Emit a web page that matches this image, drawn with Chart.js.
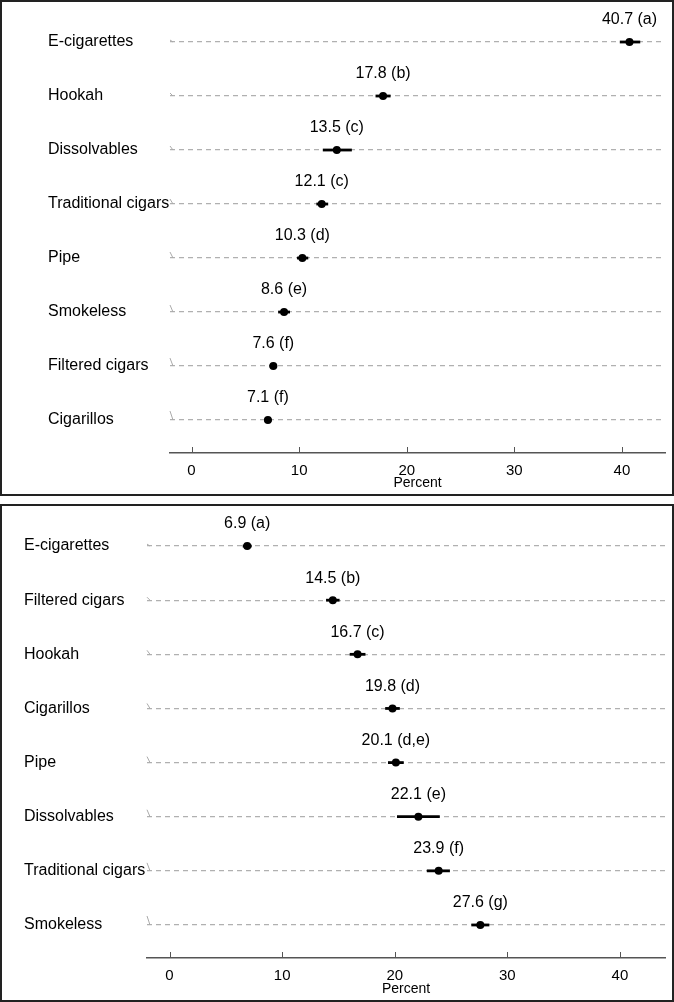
<!DOCTYPE html>
<html>
<head>
<meta charset="utf-8">
<script src="https://cdn.jsdelivr.net/npm/chart.js@4"></script>
<style>
  body { margin: 0; background: #fff; }
  .panel { position: absolute; left: 0; width: 670px; border: 2px solid #222; background: #fff; }
  #p1 { top: 0; height: 492px; }
  #p2 { top: 504px; height: 494px; }
</style>
</head>
<body>
<div class="panel" id="p1"><canvas id="top"></canvas></div>
<div class="panel" id="p2"><canvas id="bottom"></canvas></div>
<script>
const topNames = ['E-cigarettes', 'Hookah', 'Dissolvables', 'Traditional cigars', 'Pipe', 'Smokeless', 'Filtered cigars', 'Cigarillos']
const topValues = [40.7, 17.8, 13.5, 12.1, 10.3, 8.6, 7.6, 7.1]
const topLetters = ['a', 'b', 'c', 'c', 'd', 'e', 'f', 'f']
const topLow = [39.8, 17.1, 12.2, 11.6, 9.8, 8.05, 7.25, 6.75]
const topHigh = [41.7, 18.5, 14.9, 12.7, 10.85, 9.15, 7.95, 7.45]

const botNames = ['E-cigarettes', 'Filtered cigars', 'Hookah', 'Cigarillos', 'Pipe', 'Dissolvables', 'Traditional cigars', 'Smokeless']
const botValues = [6.9, 14.5, 16.7, 19.8, 20.1, 22.1, 23.9, 27.6]
const botLetters = ['a', 'b', 'c', 'd', 'd,e', 'e', 'f', 'g']
const botLow = [6.5, 13.9, 16.0, 19.15, 19.4, 20.2, 22.85, 26.8]
const botHigh = [7.3, 15.1, 17.4, 20.45, 20.8, 24.0, 24.9, 28.4]

const xTicks = [0, 10, 20, 30, 40]
const family = '"Liberation Sans", Arial, sans-serif'

// value labels, upward x ticks and the little slanted marks at the start of each row
const extras = {
  id: 'extras',
  afterDraw(chart, args, opts) {
    const { ctx, chartArea, scales: { x, y } } = chart
    ctx.save()
    ctx.strokeStyle = '#555'
    ctx.lineWidth = 1
    xTicks.forEach(v => {
      const px = Math.round(x.getPixelForValue(v)) + 0.5
      ctx.beginPath()
      ctx.moveTo(px, chartArea.bottom)
      ctx.lineTo(px, chartArea.bottom - 6)
      ctx.stroke()
    })
    ctx.strokeStyle = '#aaa'
    opts.values.forEach((v, i) => {
      const py = y.getPixelForValue(i)
      ctx.beginPath()
      ctx.moveTo(chartArea.left, py - 2 - i)
      ctx.lineTo(chartArea.left + 3, py)
      ctx.stroke()
    })
    ctx.fillStyle = '#000'
    ctx.font = '16px ' + family
    ctx.textAlign = 'center'
    ctx.textBaseline = 'middle'
    opts.values.forEach((v, i) => {
      ctx.fillText(v.toFixed(1) + ' (' + opts.letters[i] + ')', x.getPixelForValue(v), y.getPixelForValue(i) - 22)
    })
    ctx.restore()
  }
}

const makeChart = (id, names, values, letters, low, high, padLeft, yWidth, xHeight) => {
  const ciSets = names.map((n, i) => ({
    showLine: true,
    data: [{ x: low[i], y: i }, { x: high[i], y: i }],
    borderColor: '#000',
    borderWidth: 2.8,
    pointRadius: 0
  }))
  const pointSet = {
    data: values.map((v, i) => ({ x: v, y: i })),
    backgroundColor: '#000',
    borderWidth: 0,
    pointRadius: 4
  }

  return new Chart(document.getElementById(id), {
    type: 'scatter',
    data: { datasets: [pointSet, ...ciSets] },
    options: {
      responsive: true,
      maintainAspectRatio: false,
      animation: false,
      events: [],
      layout: { padding: { left: padLeft, right: 7, top: 13, bottom: 0 } },
      plugins: {
        legend: { display: false },
        tooltip: { enabled: false },
        extras: { values, letters }
      },
      scales: {
        x: {
          type: 'linear',
          min: -2,
          max: 44,
          afterBuildTicks: s => { s.ticks = xTicks.map(v => ({ value: v })) },
          grid: { display: false, drawTicks: false },
          border: { display: true, color: '#555', width: 1.5 },
          ticks: { font: { size: 15, family }, color: '#000', padding: 9 },
          title: { display: true, text: 'Percent', font: { size: 14, family }, color: '#000', padding: { top: 0, bottom: 2 } },
          afterFit: s => { s.height = xHeight }
        },
        y: {
          type: 'linear',
          reverse: true,
          min: -0.5,
          max: 7.61,
          afterBuildTicks: s => { s.ticks = names.map((n, i) => ({ value: i })) },
          ticks: { callback: v => names[v], crossAlign: 'far', font: { size: 16, family }, color: '#000', padding: 0 },
          grid: { color: '#b0b0b0', lineWidth: 1.2, drawTicks: false },
          border: { display: false, dash: [5, 4] },
          afterFit: s => { s.width = yWidth }
        }
      }
    },
    plugins: [extras]
  })
}

makeChart('top', topNames, topValues, topLetters, topLow, topHigh, 46, 122, 41)
makeChart('bottom', botNames, botValues, botLetters, botLow, botHigh, 22, 123, 42)
</script>
</body>
</html>
